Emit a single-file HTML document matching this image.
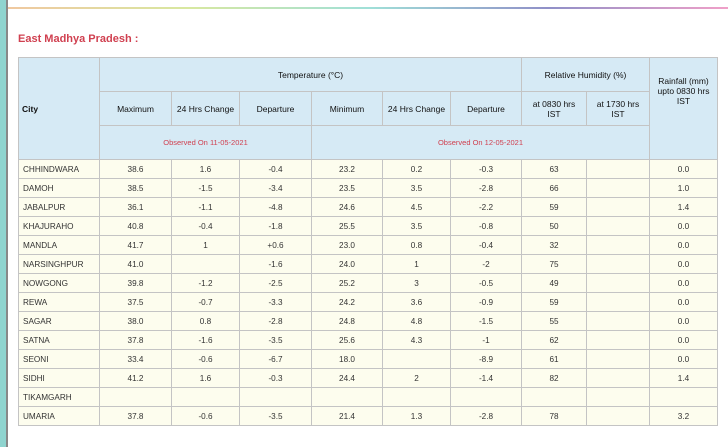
<!DOCTYPE html>
<html><head><meta charset="utf-8"><style>
body{margin:0;width:728px;height:447px;background:#fff;position:relative;overflow:hidden;font-family:"Liberation Sans",Arial,sans-serif;}
.lb{position:absolute;left:0;top:0;width:6px;height:447px;background:#8fd4cf;}
.lb2{position:absolute;left:6px;top:0;width:2px;height:447px;background:#888;}
.tl{position:absolute;left:8px;top:7px;width:720px;height:2px;background:linear-gradient(90deg,#f0c8a0,#d8e8a0,#a0e0d8,#9090c8,#f0a0c8);}
h1{position:absolute;left:18px;top:33px;margin:0;font-size:11px;color:#d04050;font-weight:bold;}
table{position:absolute;left:18px;top:57px;border-collapse:collapse;table-layout:fixed;font-size:8.2px;color:#333;}
td,th{border:1px solid #c4c4c4;padding:0;text-align:center;}
th{background:#d6eaf5;font-weight:normal;color:#111;height:33px;font-size:8.5px;}
th.c{text-align:left;padding-left:3px;font-weight:bold;}
.obs{color:#d04050;font-size:7.5px;}
td{background:#fdfdee;height:18px;}
td.n{text-align:left;padding-left:4px;}
</style></head><body>
<div class="lb"></div><div class="lb2"></div><div class="tl"></div>
<h1>East Madhya Pradesh :</h1>
<table>
<colgroup><col style="width:81px"><col style="width:72px"><col style="width:68px"><col style="width:72px"><col style="width:71px"><col style="width:68px"><col style="width:71px"><col style="width:65px"><col style="width:63px"><col style="width:68px"></colgroup>
<tr><th class="c" rowspan="3">City</th><th colspan="6">Temperature (°C)</th><th colspan="2">Relative Humidity (%)</th><th rowspan="3" style="vertical-align:top;padding-top:18px">Rainfall (mm)<br>upto 0830 hrs<br>IST</th></tr>
<tr><th>Maximum</th><th>24 Hrs Change</th><th>Departure</th><th>Minimum</th><th>24 Hrs Change</th><th>Departure</th><th>at 0830 hrs<br>IST</th><th>at 1730 hrs<br>IST</th></tr>
<tr><th colspan="3" class="obs">Observed On 11-05-2021</th><th colspan="5" class="obs">Observed On 12-05-2021</th></tr>
<tr><td class="n">CHHINDWARA</td><td>38.6</td><td>1.6</td><td>-0.4</td><td>23.2</td><td>0.2</td><td>-0.3</td><td>63</td><td></td><td>0.0</td></tr>
<tr><td class="n">DAMOH</td><td>38.5</td><td>-1.5</td><td>-3.4</td><td>23.5</td><td>3.5</td><td>-2.8</td><td>66</td><td></td><td>1.0</td></tr>
<tr><td class="n">JABALPUR</td><td>36.1</td><td>-1.1</td><td>-4.8</td><td>24.6</td><td>4.5</td><td>-2.2</td><td>59</td><td></td><td>1.4</td></tr>
<tr><td class="n">KHAJURAHO</td><td>40.8</td><td>-0.4</td><td>-1.8</td><td>25.5</td><td>3.5</td><td>-0.8</td><td>50</td><td></td><td>0.0</td></tr>
<tr><td class="n">MANDLA</td><td>41.7</td><td>1</td><td>+0.6</td><td>23.0</td><td>0.8</td><td>-0.4</td><td>32</td><td></td><td>0.0</td></tr>
<tr><td class="n">NARSINGHPUR</td><td>41.0</td><td></td><td>-1.6</td><td>24.0</td><td>1</td><td>-2</td><td>75</td><td></td><td>0.0</td></tr>
<tr><td class="n">NOWGONG</td><td>39.8</td><td>-1.2</td><td>-2.5</td><td>25.2</td><td>3</td><td>-0.5</td><td>49</td><td></td><td>0.0</td></tr>
<tr><td class="n">REWA</td><td>37.5</td><td>-0.7</td><td>-3.3</td><td>24.2</td><td>3.6</td><td>-0.9</td><td>59</td><td></td><td>0.0</td></tr>
<tr><td class="n">SAGAR</td><td>38.0</td><td>0.8</td><td>-2.8</td><td>24.8</td><td>4.8</td><td>-1.5</td><td>55</td><td></td><td>0.0</td></tr>
<tr><td class="n">SATNA</td><td>37.8</td><td>-1.6</td><td>-3.5</td><td>25.6</td><td>4.3</td><td>-1</td><td>62</td><td></td><td>0.0</td></tr>
<tr><td class="n">SEONI</td><td>33.4</td><td>-0.6</td><td>-6.7</td><td>18.0</td><td></td><td>-8.9</td><td>61</td><td></td><td>0.0</td></tr>
<tr><td class="n">SIDHI</td><td>41.2</td><td>1.6</td><td>-0.3</td><td>24.4</td><td>2</td><td>-1.4</td><td>82</td><td></td><td>1.4</td></tr>
<tr><td class="n">TIKAMGARH</td><td></td><td></td><td></td><td></td><td></td><td></td><td></td><td></td><td></td></tr>
<tr><td class="n">UMARIA</td><td>37.8</td><td>-0.6</td><td>-3.5</td><td>21.4</td><td>1.3</td><td>-2.8</td><td>78</td><td></td><td>3.2</td></tr>
</table>
</body></html>
